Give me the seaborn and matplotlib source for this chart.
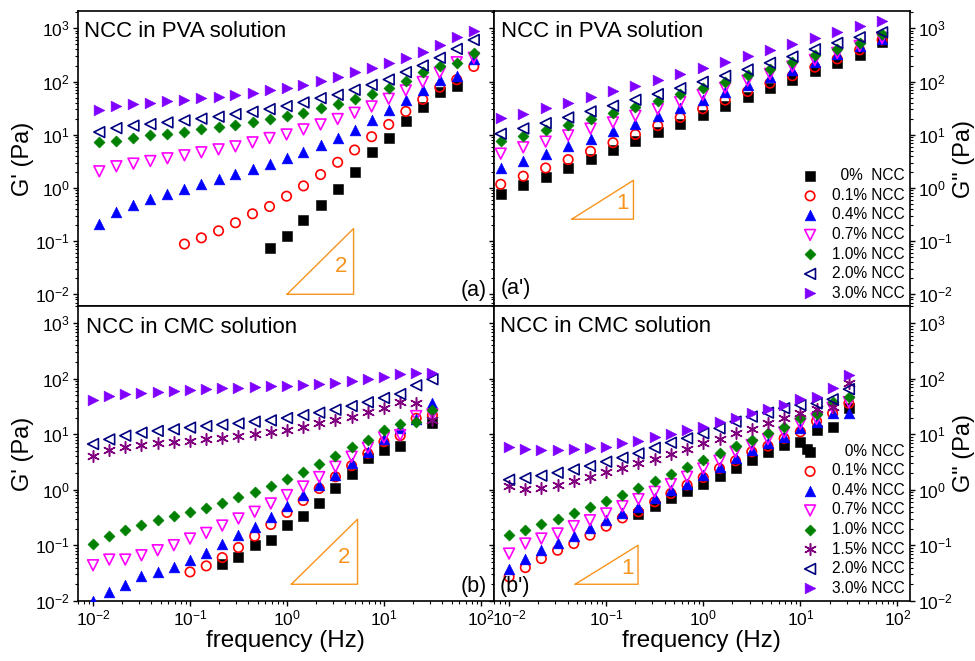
import numpy as np
import matplotlib
matplotlib.use('Agg')
import matplotlib.pyplot as plt
import seaborn as sns
from matplotlib.ticker import LogLocator, NullFormatter

# ---- frequencies (Hz) ----
freq_pva_g1 = [0.0116, 0.0174, 0.0261, 0.0390, 0.0585, 0.0876, 0.131, 0.197, 0.294, 0.441,
               0.661, 0.990, 1.48, 2.22, 3.33, 4.98, 7.46, 11.2, 16.8, 25.1, 37.6, 56.3, 84.3]
freq_pva_g2 = [0.0082, 0.0140, 0.0238, 0.0406, 0.0690, 0.1175, 0.200, 0.340, 0.579,
               0.986, 1.68, 2.86, 4.86, 8.28, 14.1, 24.0, 40.8, 69.5]
freq_cmc = [0.01, 0.0147, 0.0215, 0.0316, 0.0464, 0.0681, 0.1, 0.147, 0.215, 0.316, 0.464,
            0.681, 1.0, 1.47, 2.15, 3.16, 4.64, 6.81, 10.0, 14.7, 21.5, 31.6]
freq_cmc_g2_0 = [0.215, 0.316, 0.464, 0.681, 1.0, 1.47, 2.15, 3.16, 4.64, 6.81, 10.0, 11.8,
                 14.7, 21.5, 31.6]

nan = np.nan

# ---- (a) G' of NCC in PVA ----
pva_g1_0 = [nan] * 10 + [0.074, 0.126, 0.244, 0.48, 0.97, 1.97, 4.8, 8.8, 17.8, 33, 63, 82, nan]
pva_g1_01 = [nan] * 5 + [0.088, 0.115, 0.156, 0.221, 0.326, 0.447, 0.698, 1.09, 1.78, 3.03,
                         5.16, 9.17, 15.6, 27.4, 46, 78, 108, 192]
pva_g1_04 = [0.214, 0.35, 0.48, 0.61, 0.77, 0.96, 1.2, 1.45, 1.8, 2.24, 2.86, 3.65, 4.67, 6.3,
             8.8, 12.4, 18.8, 28.6, 44, 70, 109, 127, 267]
pva_g1_07 = [2.05, 2.55, 2.86, 3.2, 3.6, 4.1, 4.67, 5.3, 6.04, 7.18, 8.66, 10.1, 12.6, 15.6,
             19.7, 25.8, 34, 47.3, 68, 98, 146, 230, 279]
pva_g1_10 = [7.29, 7.5, 8.8, 9.7, 10.4, 11.2, 12.6, 13.7, 15.4, 17, 19.7, 22.4, 25.8, 31.6, 37,
             46, 58.7, 76, 103, 150, 200, 225, 339]
pva_g1_20 = [11.2, 13.3, 14.8, 15.8, 17, 18.6, 20, 21.8, 24.4, 27, 30.3, 34.5, 40.4, 48.7, 56.2,
             69.8, 86.6, 109, 150, 200, 279, 410, 605]
pva_g1_30 = [29.4, 34, 37.6, 39.8, 42.2, 45.3, 48, 51.6, 55.4, 60.4, 67.8, 76, 86.6, 104, 120,
             150, 178, 221, 278, 360, 488, 678, 906]

# ---- (a') G'' of NCC in PVA ----
pva_g2_0 = [0.77, 1.11, 1.61, 2.37, 3.45, 5.08, 7.5, 11.1, 16.1, 23.4, 35, 50.8, 75, 107, 156,
            224, 316, 555]
pva_g2_01 = [1.17, 1.66, 2.37, 3.4, 4.87, 7.08, 10.1, 14.8, 21.1, 30.7, 44.7, 64.9, 93, 128,
             186, 266, 393, 604]
pva_g2_04 = [2.37, 3.25, 4.4, 6.1, 8.4, 11.5, 16.1, 22.4, 31.6, 44, 62.2, 85.4, 120, 168, 230,
             325, 460, 631]
pva_g2_07 = [4.4, 5.8, 7.4, 9.7, 13, 17, 22.7, 30.3, 41, 56.2, 76, 104, 139, 191, 255, 345,
             467, 659]
pva_g2_10 = [7.6, 9.6, 12.1, 15.4, 20, 25.5, 33, 42.8, 57, 75, 100, 131, 175, 237, 312, 404,
             531, 783]
pva_g2_20 = [10.4, 13.1, 16.5, 21.1, 27.4, 35, 45.3, 57.9, 75, 98.6, 128, 168, 224, 294, 404,
             531, 678, 841]
pva_g2_30 = [20.2, 24.8, 31.2, 39.3, 50.1, 65.9, 81.8, 107, 139, 180, 234, 299, 387, 508, 649,
             841, 1090, 1393]

# ---- (b) G' of NCC in CMC ----
cmc_g1_0 = [nan] * 8 + [0.0458, 0.062, 0.101, 0.124, 0.231, 0.336, 0.569, 1.09, 1.92, 3.68, 5.2,
                        6.14, nan, 16]
cmc_g1_01 = [nan] * 6 + [0.0333, 0.0428, 0.0604, 0.0916, 0.147, 0.238, 0.392, 0.644, 1.06,
                         1.72, 2.72, 4.53, 7.36, 9.45, 19.4, 22.2]
cmc_g1_04 = [0.010, 0.0145, 0.0191, 0.0278, 0.0333, 0.041, 0.0541, 0.0743, 0.104, 0.153, 0.216,
             0.327, 0.516, 0.793, 1.22, 1.84, 3.08, 4.72, 8.22, 12.8, 18.8, 36.1]
cmc_g1_07 = [0.044, 0.0556, 0.0556, 0.0665, 0.0819, 0.101, 0.133, 0.168, 0.228, 0.305, 0.403,
             0.569, 0.804, 1.15, 1.7, 2.61, 3.95, 5.73, 8.8, 9.7, 21.3, 22.9]
cmc_g1_10 = [0.104, 0.149, 0.188, 0.234, 0.281, 0.336, 0.392, 0.475, 0.569, 0.73, 0.91, 1.17,
             1.54, 2.09, 2.87, 4.11, 5.81, 8.0, 11.9, 15.3, 16.9, 27.4]
cmc_g1_15 = [4.0, 5.27, 5.97, 6.4, 6.86, 7.36, 7.56, 8.22, 8.69, 9.45, 10.1, 10.8, 11.9, 13.7,
             15.7, 17.8, 20.8, 24.8, 29.4, 38, 36.4, 18.1]
cmc_g1_20 = [6.68, 8.1, 9.45, 10.7, 11.5, 12.3, 13.2, 14.1, 14.9, 15.7, 16.9, 17.8, 19.6, 22.2,
             24.5, 27.7, 32.3, 37.7, 45.1, 53, 76.2, 98]
cmc_g1_30 = [41.5, 49, 52.5, 55.5, 57.8, 60.3, 62.9, 65.5, 67.3, 69.2, 71.2, 73.2, 75.2, 78.4,
             80.6, 85.2, 90, 97.8, 108, 120, 126, 129]

# ---- (b') G'' of NCC in CMC ----
cmc_g2_0 = [0.365, 0.509, 0.7, 0.948, 1.3, 1.8, 2.43, 3.43, 4.72, 6.4, 7.4, 5.4, 11.9, 13.7, 30]
cmc_g2_01 = [0.0271, 0.0399, 0.058, 0.0819, 0.108, 0.153, 0.222, 0.313, 0.403, 0.61, 0.861,
             1.22, 1.67, 2.43, 3.34, 4.85, 6.14, 8.45, 11.1, 17.3, 23.8, 36.1]
cmc_g2_04 = [0.0383, 0.058, 0.0819, 0.111, 0.149, 0.207, 0.284, 0.376, 0.496, 0.7, 0.99, 1.3,
             1.84, 2.61, 3.68, 5.2, 6.86, 9.06, 13.2, 17, 24.5, 24.5]
cmc_g2_07 = [0.0713, 0.108, 0.133, 0.164, 0.222, 0.284, 0.376, 0.509, 0.681, 0.923, 1.27, 1.72,
             2.43, 3.34, 4.85, 6.4, 8.22, 10.8, 15.5, 19, 30, 38]
cmc_g2_10 = [0.153, 0.188, 0.244, 0.305, 0.376, 0.482, 0.627, 0.804, 1.09, 1.44, 1.9, 2.53, 3.43,
             4.66, 6.14, 7.89, 10.4, 13.7, 19.5, 23, 38.6, 47]
cmc_g2_15 = [1.18, 1.02, 1.1, 1.22, 1.46, 1.67, 2.12, 2.5, 2.99, 3.58, 4.47, 5.35, 6.86, 8.1,
             10.4, 12.5, 15.7, 19.4, 24, 28, 31, 85]
cmc_g2_20 = [1.52, 1.63, 1.8, 2.03, 2.33, 2.68, 3.21, 3.79, 4.53, 5.73, 7.06, 8.45, 10.4, 12.8,
             16.9, 20.8, 24.5, 29.4, 33.7, 36, 42.7, 65]
cmc_g2_30 = [5.81, 5.35, 5.2, 5.2, 5.35, 5.73, 5.97, 6.86, 7.56, 8.8, 10.3, 11.8, 13.7, 16.6,
             19.9, 23.8, 28.2, 33.7, 42.7, 47.5, 68, 117]

labels_pva = ['  0%  NCC', '0.1% NCC', '0.4% NCC', '0.7% NCC', '1.0% NCC', '2.0% NCC', '3.0% NCC']
labels_cmc = ['   0% NCC', '0.1% NCC', '0.4% NCC', '0.7% NCC', '1.0% NCC', '1.5% NCC',
              '2.0% NCC', '3.0% NCC']
conc_pva = ['0', '0.1', '0.4', '0.7', '1.0', '2.0', '3.0']
conc_cmc = ['0', '0.1', '0.4', '0.7', '1.0', '1.5', '2.0', '3.0']

# slope guide triangles (corner points) and their numbers
tri_a_x, tri_a_y = [1.0, 4.86, 4.86, 1.0], [0.01, 0.01, 0.172, 0.01]
tri_a2_x, tri_a2_y = [0.0442, 0.191, 0.191, 0.0442], [0.258, 0.258, 1.39, 0.258]
tri_b_x, tri_b_y = [1.107, 5.34, 5.34, 1.107], [0.02, 0.02, 0.296, 0.02]
tri_b2_x, tri_b2_y = [0.0479, 0.213, 0.213, 0.0479], [0.02, 0.02, 0.1007, 0.02]

ASTER = (6, 2, 0)
# marker, colour, filled, size
styles = {
    '0': ('s', '#000000', True, 42),
    '0.1': ('o', '#FF0000', False, 46),
    '0.4': ('^', '#0000FF', True, 60),
    '0.7': ('v', '#FF00FF', False, 60),
    '1.0': ('D', '#008000', True, 32),
    '1.5': (ASTER, '#800080', False, 70),
    '2.0': ('<', '#000080', False, 60),
    '3.0': ('>', '#8000FF', True, 60),
}
ORANGE = '#F7941D'

sns.set_theme(style='ticks')
plt.rcParams['font.family'] = ['Liberation Sans', 'DejaVu Sans']
plt.rcParams['mathtext.fontset'] = 'custom'
plt.rcParams['mathtext.rm'] = 'Liberation Sans'
plt.rcParams['mathtext.it'] = 'Liberation Sans:italic'
plt.rcParams['mathtext.bf'] = 'Liberation Sans:bold'
for k in ['axes.edgecolor', 'xtick.color', 'ytick.color', 'text.color', 'axes.labelcolor']:
    plt.rcParams[k] = 'black'


def draw(ax, x, y, conc, label):
    m, c, filled, s = styles[conc]
    x = np.asarray(x, float)
    y = np.asarray(y, float)
    ok = ~np.isnan(y)
    kw = dict(marker=m, s=s, ax=ax, legend=False, label=label, zorder=3)
    if m == ASTER:
        kw.update(color=c, linewidth=1.1)
    elif filled:
        kw.update(color=c, edgecolor=c, linewidth=0.4)
    else:
        kw.update(facecolor='none', edgecolor=c, linewidth=1.2)
    sns.scatterplot(x=x[ok], y=y[ok], **kw)


def style_axes(ax, ylim, right=False, bottom_labels=False):
    ax.set_xscale('log')
    ax.set_yscale('log')
    ax.set_xlim(10 ** -2.16, 10 ** 2.13)
    ax.set_ylim(*ylim)
    for axis in (ax.xaxis, ax.yaxis):
        axis.set_major_locator(LogLocator(base=10, numticks=12))
        axis.set_minor_locator(LogLocator(base=10, subs=np.arange(2, 10) * 1.0, numticks=60))
        axis.set_minor_formatter(NullFormatter())
    ax.tick_params(which='major', direction='out', length=3.5, width=1.0, labelsize=12.5, pad=2)
    ax.tick_params(which='minor', direction='out', length=2.0, width=0.8)
    if right:
        ax.yaxis.tick_right()
        ax.yaxis.set_label_position('right')
        ax.tick_params(axis='y', which='both', left=True, labelleft=False)
        ax.set_ylabel('G" (Pa)', fontsize=17)
        ax.yaxis.set_label_coords(1.103, 0.5)
    else:
        ax.set_ylabel("G' (Pa)", fontsize=17)
        ax.yaxis.set_label_coords(-0.105, 0.5)
    if bottom_labels:
        ax.set_xlabel('frequency (Hz)', fontsize=17.5, labelpad=1)
    else:
        ax.tick_params(axis='x', labelbottom=False)
    for sp in ax.spines.values():
        sp.set_linewidth(1.2)
        sp.set_color('black')


fig = plt.figure(figsize=(9.75, 6.61), dpi=100)
ax_a = fig.add_axes([0.0795, 0.5371, 0.4267, 0.4458])
ax_a2 = fig.add_axes([0.5062, 0.5371, 0.4272, 0.4458])
ax_b = fig.add_axes([0.0795, 0.0908, 0.4267, 0.4463])
ax_b2 = fig.add_axes([0.5062, 0.0908, 0.4272, 0.4463])

# (a)
for conc, lab, ys in zip(conc_pva, labels_pva,
                         [pva_g1_0, pva_g1_01, pva_g1_04, pva_g1_07, pva_g1_10, pva_g1_20, pva_g1_30]):
    draw(ax_a, freq_pva_g1, ys, conc, lab)
# (a')
for conc, lab, ys in zip(conc_pva, labels_pva,
                         [pva_g2_0, pva_g2_01, pva_g2_04, pva_g2_07, pva_g2_10, pva_g2_20, pva_g2_30]):
    draw(ax_a2, freq_pva_g2, ys, conc, lab)
# (b)
for conc, lab, ys in zip(conc_cmc, labels_cmc,
                         [cmc_g1_0, cmc_g1_01, cmc_g1_04, cmc_g1_07, cmc_g1_10, cmc_g1_15,
                          cmc_g1_20, cmc_g1_30]):
    draw(ax_b, freq_cmc, ys, conc, lab)
# (b')
cmc_g2_sets = [(freq_cmc_g2_0, cmc_g2_0), (freq_cmc, cmc_g2_01), (freq_cmc, cmc_g2_04),
               (freq_cmc, cmc_g2_07), (freq_cmc, cmc_g2_10), (freq_cmc, cmc_g2_15),
               (freq_cmc, cmc_g2_20), (freq_cmc, cmc_g2_30)]
for conc, lab, (xs, ys) in zip(conc_cmc, labels_cmc, cmc_g2_sets):
    draw(ax_b2, xs, ys, conc, lab)

style_axes(ax_a, (10 ** -2.22, 10 ** 3.32))
style_axes(ax_a2, (10 ** -2.22, 10 ** 3.32), right=True)
style_axes(ax_b, (10 ** -2, 10 ** 3.31), bottom_labels=True)
style_axes(ax_b2, (10 ** -2, 10 ** 3.31), right=True, bottom_labels=True)

# slope guides
for ax, tx, ty, num, nx, ny in [(ax_a, tri_a_x, tri_a_y, '2', 3.58, 0.0328),
                                (ax_a2, tri_a2_x, tri_a2_y, '1', 0.147, 0.507),
                                (ax_b, tri_b_x, tri_b_y, '2', 3.87, 0.0604),
                                (ax_b2, tri_b2_x, tri_b2_y, '1', 0.166, 0.0383)]:
    ax.plot(tx, ty, color=ORANGE, lw=1.0, zorder=2)
    ax.text(nx, ny, num, color=ORANGE, fontsize=16, ha='center', va='center')

# panel titles and tags
ax_a.text(0.016, 0.933, 'NCC in PVA solution', transform=ax_a.transAxes, fontsize=16, va='center')
ax_a2.text(0.018, 0.931, 'NCC in PVA solution', transform=ax_a2.transAxes, fontsize=16, va='center')
ax_b.text(0.020, 0.926, 'NCC in CMC solution', transform=ax_b.transAxes, fontsize=16, va='center')
ax_b2.text(0.016, 0.930, 'NCC in CMC solution', transform=ax_b2.transAxes, fontsize=16, va='center')
ax_a.text(0.984, 0.054, '(a)', transform=ax_a.transAxes, fontsize=15.5, ha='right', va='center')
ax_a2.text(0.018, 0.060, "(a')", transform=ax_a2.transAxes, fontsize=15.5, ha='left', va='center')
ax_b.text(0.984, 0.0485, '(b)', transform=ax_b.transAxes, fontsize=15.5, ha='right', va='center')
ax_b2.text(0.014, 0.0485, "(b')", transform=ax_b2.transAxes, fontsize=15.5, ha='left', va='center')

for ax in (ax_a2, ax_b2):
    h, l = ax.get_legend_handles_labels()
    ax.legend(h, l, loc='lower right', bbox_to_anchor=(1.0, 0.0), frameon=False, fontsize=11.2,
              handlelength=1.0, handletextpad=0.9, labelspacing=0.29, borderaxespad=0.05,
              borderpad=0.3, scatterpoints=1)

fig.savefig('out.png', dpi=100)
